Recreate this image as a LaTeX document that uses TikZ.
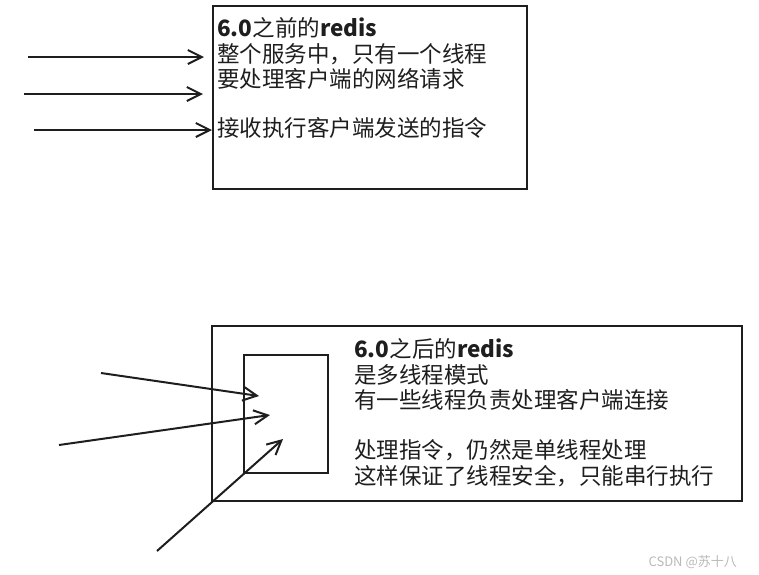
\documentclass[tikz,border=0pt]{standalone}
\usepackage{fontspec}
\setmainfont{Noto Sans CJK SC}
\usetikzlibrary{arrows.meta}
\definecolor{ink}{HTML}{1E1E1E}

\begin{document}
\begin{tikzpicture}[x=1pt, y=-1pt,
  >={Straight Barb[length=14pt,width=14pt,line width=2pt]},
  panel/.style={draw=ink, line width=2pt, anchor=north west, inner sep=0pt},
  feed/.style={->, draw=ink, line width=2pt},
  note/.style={anchor=north west, align=left, inner sep=0pt, text=ink,
    font=\fontsize{22.5}{25.8}\selectfont}]
  \useasboundingbox (0,0) rectangle (759,574);
  % before 6.0: one thread
  \node[panel, minimum width=314pt, minimum height=183pt] (before) at (212,5) {};
  \node[note] (beforetext) at (217,17)
    {\textbf{6.0}之前的\textbf{redis}\\整个服务中，只有一个线程\\要处理客户端的网络请求\\[23pt]接收执行客户端发送的指令};
  \coordinate (req1) at (28,57);
  \coordinate (req2) at (24,94);
  \coordinate (req3) at (34,130);
  \draw[feed] (req1) -- ([xshift=-8pt]before.west |- req1);
  \draw[feed] (req2) -- ([xshift=-9pt]before.west |- req2);
  \draw[feed] (req3) -- (before.west |- req3);
  % after 6.0: io threads
  \node[panel, minimum width=530pt, minimum height=175pt] (after) at (211,325) {};
  \node[panel, minimum width=84pt, minimum height=118pt] (pool) at (243,354) {};
  \node[note] (aftertext) at (354,338)
    {\textbf{6.0}之后的\textbf{redis}\\是多线程模式\\有一些线程负责处理客户端连接\\[24pt]处理指令，仍然是单线程处理\\这样保证了线程安全，只能串行执行};
  \coordinate (conn1) at (101,373);
  \coordinate (conn2) at (59,445);
  \coordinate (conn3) at (157,551);
  \coordinate (hit1) at (259,396);
  \coordinate (hit2) at (270,415);
  \coordinate (hit3) at (283,439);
  \draw[feed] (conn1) -- (hit1);
  \draw[feed] (conn2) -- (hit2);
  \draw[feed] (conn3) -- (hit3);
  \node[anchor=east, inner sep=0pt, text=gray!55, font=\fontsize{13}{13}\selectfont] (mark) at (737,562) {CSDN @苏十八};
\end{tikzpicture}
\end{document}
